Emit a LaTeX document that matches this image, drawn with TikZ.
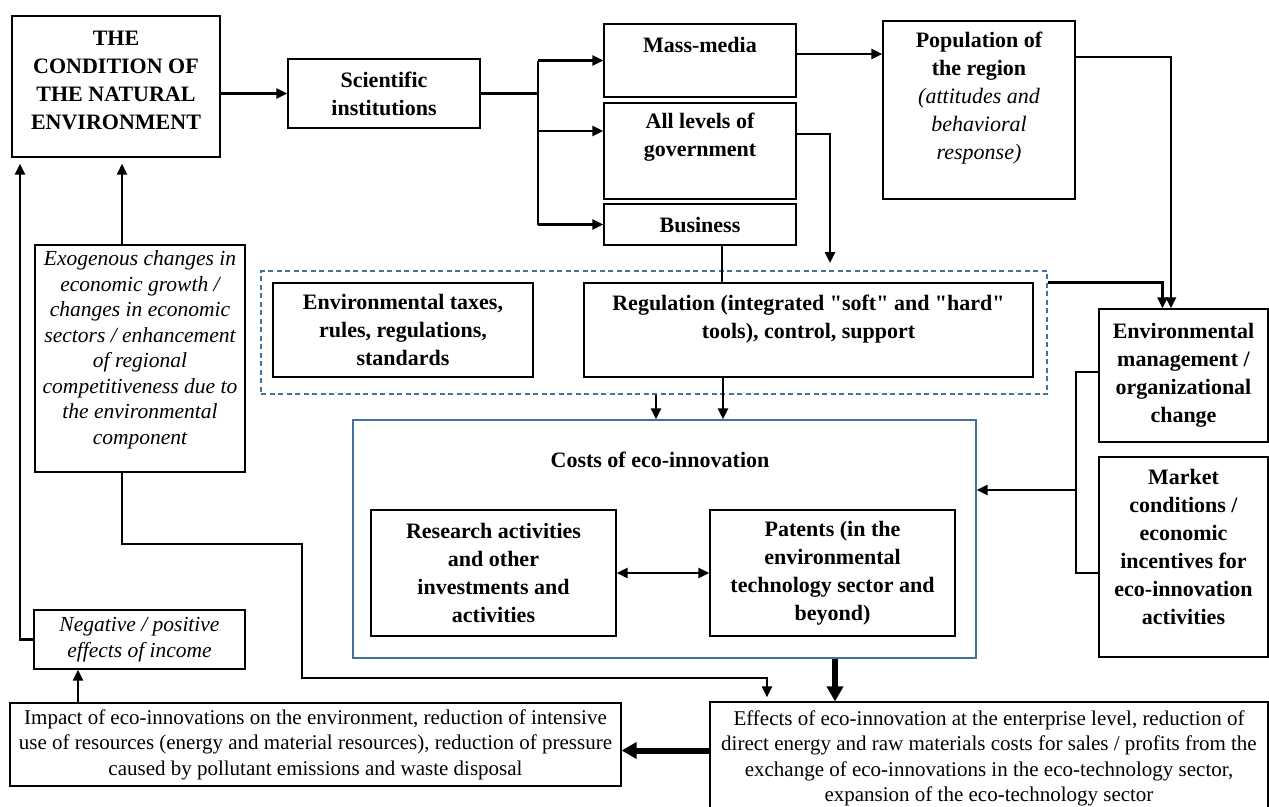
\documentclass[tikz,border=0pt]{standalone}
\usepackage{fontspec}
\setmainfont{Liberation Serif}[Ligatures=TeXOff]
\usetikzlibrary{arrows.meta, positioning}
\definecolor{frameblue}{HTML}{41719C}
\tikzset{
	box/.style={draw, line width=1.2pt, inner sep=0pt},
	boldtext/.style={font=\fontsize{22}{28}\selectfont\bfseries, align=center, inner sep=0pt}
}
\tikzset{
	ittext/.style={font=\fontsize{21.5}{25.5}\selectfont\itshape, align=center, inner sep=0pt},
	plaintext/.style={font=\fontsize{21}{25.5}\selectfont, align=center, inner sep=0pt},
	link/.style={line width=2.6pt},
	bigarr/.style={line width=6pt, -{Triangle[length=15pt,width=16pt]}},
	>={Triangle[length=11pt,width=10pt]}
}
\newcommand{\itl}[1]{{\mdseries\itshape #1}}

\begin{document}
\begin{tikzpicture}[x=1pt, y=-1pt]
  \useasboundingbox (0,0) rectangle (1269,806);
  \clip (0,0) rectangle (1269,806);
  % top row
  \node[box, minimum width=208pt, minimum height=141pt] (cond) at (116,86.5) {};
  \node[boldtext] (condtxt) at (116,80) {THE\\CONDITION OF\\THE NATURAL\\ENVIRONMENT};
  \node[box, boldtext, minimum width=192pt, minimum height=69pt] (sci) at (384,93.5) {Scientific\\institutions};
  \node[box, minimum width=192pt, minimum height=73pt] (mm) at (700,60.5) {};
  \node[boldtext] (mmtxt) at (700,45) {Mass-media};
  \node[box, minimum width=192pt, minimum height=96pt] (gov) at (700,151) {};
  \node[boldtext] (govtxt) at (700,137.5) {All levels of\\government};
  \node[box, boldtext, minimum width=192pt, minimum height=41pt] (bus) at (700,224.5) {Business};
  \node[box, minimum width=192pt, minimum height=178pt] (pop) at (979,110) {};
  \node[boldtext] (poptxt) at (979,98.5) {Population of\\the region\\\itl{(attitudes and}\\\itl{behavioral}\\\itl{response)}};

  % left column
  \node[box, minimum width=210pt, minimum height=227pt] (exo) at (140,358.5) {};
  \node[ittext] (exotxt) at (140,350) {Exogenous changes in\\economic growth /\\changes in economic\\sectors / enhancement\\of regional\\competitiveness due to\\the environmental\\component};
  \node[box, ittext, minimum width=211pt, minimum height=59pt] (neg) at (139.5,639.5) {Negative / positive\\effects of income};

  % regulation group
  \node[draw=frameblue, line width=1.2pt, dash pattern=on 5pt off 3.5pt, minimum width=786pt, minimum height=123pt, inner sep=0pt] (grp) at (654,332.5) {};
  \node[box, boldtext, minimum width=260pt, minimum height=94pt] (tax) at (403,330) {Environmental taxes,\\rules, regulations,\\standards};
  \node[box, minimum width=449pt, minimum height=94pt] (reg) at (808.5,330) {};
  \node[boldtext] (regtxt) at (808.5,319.5) {Regulation (integrated "soft" and "hard"\\tools), control, support};

  % costs of eco-innovation
  \node[draw=frameblue, line width=1.2pt, inner sep=0pt, minimum width=623pt, minimum height=238pt] (costs) at (664.5,539) {};
  \node[boldtext] (coststxt) at (660,460) {Costs of eco-innovation};
  \node[box, boldtext, minimum width=245pt, minimum height=126pt] (res) at (493.5,573) {Research activities\\and other\\investments and\\activities};
  \node[box, boldtext, minimum width=245pt, minimum height=126pt] (pat) at (832.5,573) {Patents (in the\\environmental\\technology sector and\\beyond)};

  % right column
  \node[box, boldtext, minimum width=169pt, minimum height=133pt] (env) at (1183.5,375.5) {Environmental\\management /\\organizational\\change};
  \node[box, minimum width=169pt, minimum height=200pt] (mkt) at (1183.5,557) {};
  \node[boldtext] (mkttxt) at (1183.5,547) {Market\\conditions /\\economic\\incentives for\\eco-innovation\\activities};

  % bottom row
  \node[box, plaintext, minimum width=611pt, minimum height=83pt] (imp) at (315.5,744.5) {Impact of eco-innovations on the environment, reduction of intensive\\use of resources (energy and material resources), reduction of pressure\\caused by pollutant emissions and waste disposal};
  \node[box, minimum width=558pt, minimum height=112pt] (eff) at (989,758) {};
  \node[plaintext] (efftxt) at (989,758.5) {Effects of eco-innovation at the enterprise level, reduction of\\direct energy and raw materials costs for sales / profits from the\\exchange of eco-innovations in the eco-technology sector,\\expansion of the eco-technology sector};

  % helper points for the connectors
  \coordinate (br) at (538,93.5);
  \coordinate (govin) at ([yshift=20pt]gov.west);
  \coordinate (govout) at ([yshift=17pt]gov.east);
  \coordinate (govend) at (830,263);
  \coordinate (mmout) at ([yshift=6.5pt]mm.east);
  \coordinate (popout) at ([yshift=53pt]pop.east);
  \coordinate (busout) at ([xshift=22pt]bus.south);
  \coordinate (regdown) at ([xshift=-85.5pt]reg.south);
  \coordinate (grpdown) at ([xshift=2pt]grp.south);
  \coordinate (grpout) at (grp.east |- reg.north);
  \coordinate (envin1) at ([xshift=-21pt]env.north);
  \coordinate (envin2) at ([xshift=-12.5pt]env.north);
  \coordinate (envbr) at ([yshift=3.5pt]env.west);
  \coordinate (mktbr) at ([yshift=-16pt]mkt.west);
  \coordinate (brk) at (1076,490);
  \coordinate (effin) at ([xshift=170.5pt]costs.south);
  \coordinate (negin) at ([xshift=-61.5pt]neg.south);
  \coordinate (condin1) at ([xshift=-96pt]cond.south);
  \coordinate (condin2) at ([xshift=6pt]cond.south);
  \coordinate (exoout) at ([xshift=-18pt]exo.south);
  \coordinate (bendA) at (302,544);
  \coordinate (bendB) at (767,678);

  % connectors
  \draw[link, ->] (sci.west -| cond.east) -- (sci.west);
  \draw[link] (sci.east) -- (br);
  \draw[link] (br |- mm.west) -- (br |- bus.west);
  \draw[link, ->] (br |- mm.west) -- (mm.west);
  \draw[link, ->] (govin -| br) -- (govin);
  \draw[link, ->] (br |- bus.west) -- (bus.west);
  \draw[link, ->] (mmout) -- (mmout -| pop.west);
  \draw[link, ->] (popout) -| (envin2);
  \draw[link, ->] (govout) -| (govend);
  \draw[link] (busout) -- (busout |- reg.north);
  \draw[link, ->] (regdown) -- (regdown |- costs.north);
  \draw[link, ->] (grpdown) -- (grpdown |- costs.north);
  \draw[link, ->] (grpout) -| (envin1);
  \draw[link] (envbr) -- (envbr -| brk) -- (mktbr -| brk) -- (mktbr);
  \draw[link, ->] (brk) -- (brk -| costs.east);
  \draw[link, <->] (res.east) -- (pat.west);
  \draw[bigarr] (effin) -- (effin |- eff.north);
  \draw[bigarr] ([yshift=-6pt]imp.east -| eff.west) -- ([yshift=-6pt]imp.east);
  \draw[link, ->] (negin |- imp.north) -- (negin);
  \draw[link, ->, shorten >=6pt] (neg.west) -| (condin1);
  \draw[link, ->, shorten >=6pt] (exo.north -| condin2) -- (condin2);
  \draw[link, ->, shorten >=4pt] (exoout) |- (bendA) |- (bendB) -- (bendB |- eff.north);
\end{tikzpicture}
\end{document}
